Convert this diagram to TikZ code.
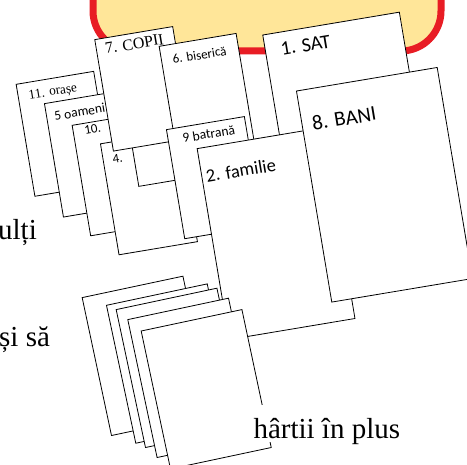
\documentclass[tikz,border=0pt]{standalone}
\usepackage{fontspec}
\setmainfont{Liberation Serif}
\newfontfamily\calibri{Carlito}
\definecolor{galben}{RGB}{255,230,153}
\definecolor{rosu}{RGB}{232,28,36}
\tikzset{
  foaie/.style={draw, fill=white, line width=0.8pt, inner sep=0pt, anchor=north west},
  stiva/.style={foaie, rotate=12, minimum width=103pt, minimum height=141pt},
  eticheta/.style={inner sep=0pt, anchor=base west, rotate=9.5},
  lit/.style={font=\calibri\fontsize{#1}{#1}\selectfont},
  tnr/.style={font=\fontsize{#1}{#1}\selectfont}
}

\begin{document}
\begin{tikzpicture}[x=1pt,y=-1pt]
\useasboundingbox (0,0) rectangle (467,465);
\clip (0,0) rectangle (467,465);

% caseta galbena de sus
\draw[rosu, line width=7pt, fill=galben, rounded corners=40pt] (93,-100) rectangle (441,51);

% text din spate
\node[tnr=29, inner sep=0pt, anchor=base east] (ulti) at (37,240) {ulți};
\node[tnr=29, inner sep=0pt, anchor=base west] (sisa) at (-1,346.7) {și să};

% foile mici
\node[foaie, rotate=9.5, minimum width=78.6pt, minimum height=113.5pt] (orase) at (15.7,84) {};
\node[eticheta, tnr=13.3] (torase) at (29.3,99.3) {11. orașe};
\node[foaie, rotate=9.5, minimum width=79pt, minimum height=115pt] (oameni) at (44,103.3) {};
\node[eticheta, lit=13.5] (toameni) at (55,120.7) {5 oameni};
\node[foaie, rotate=9.5, minimum width=79pt, minimum height=112pt] (zece) at (71.7,125) {};
\node[eticheta, lit=13] (tzece) at (85,135) {10.};
\node[foaie, rotate=9.5, minimum width=79.5pt, minimum height=112.5pt] (patru) at (100,143.5) {};
\node[eticheta, lit=13] (tpatru) at (113.3,164) {4.};
\node[foaie, rotate=9.5, minimum width=79pt, minimum height=113pt] (trei) at (119.7,74.6) {};
\node[foaie, rotate=9.5, minimum width=79pt, minimum height=113pt] (copii) at (94.3,39.3) {};
\node[eticheta, tnr=16] (tcopii) at (106,54) {7. COPII};
\node[foaie, rotate=9.5, minimum width=78pt, minimum height=113pt] (biserica) at (158.7,46) {};
\node[eticheta, lit=13] (tbiserica) at (173.3,64) {6. biserică};
\node[foaie, rotate=9.5, minimum width=79pt, minimum height=110.6pt] (batrana) at (166,129.3) {};
\node[eticheta, lit=13.6] (tbatrana) at (183.3,142.7) {9 batrană};

% foile mari
\node[foaie, rotate=9.5, minimum width=138.5pt, minimum height=205pt] (sat) at (262.3,34.7) {};
\node[eticheta, lit=20] (tsat) at (281.7,55.7) {1. SAT};
\node[foaie, rotate=9.5, minimum width=127.6pt, minimum height=193.6pt] (familie) at (196.7,148.3) {};
\node[eticheta, lit=18.5] (tfamilie) at (207,182.5) {2. familie};
\node[foaie, rotate=9.5, minimum width=142.7pt, minimum height=214pt] (bani) at (296,90.7) {};
\node[eticheta, lit=21] (tbani) at (313.3,130.7) {8. BANI};

% teancul de hartii goale
\node[stiva] (h1) at (81.7,297.3) {};
\node[stiva] (h2) at (106,305) {};
\node[stiva] (h3) at (115.7,309.3) {};
\node[stiva] (h4) at (127.3,319.3) {};
\node[stiva] (h5) at (140.7,330.7) {};
\node[tnr=29, fill=white, inner xsep=0pt, inner ysep=0pt, text height=33pt, text depth=4pt, anchor=base west] (hplus) at (253.3,438.3) {hârtii în plus};
\end{tikzpicture}
\end{document}
